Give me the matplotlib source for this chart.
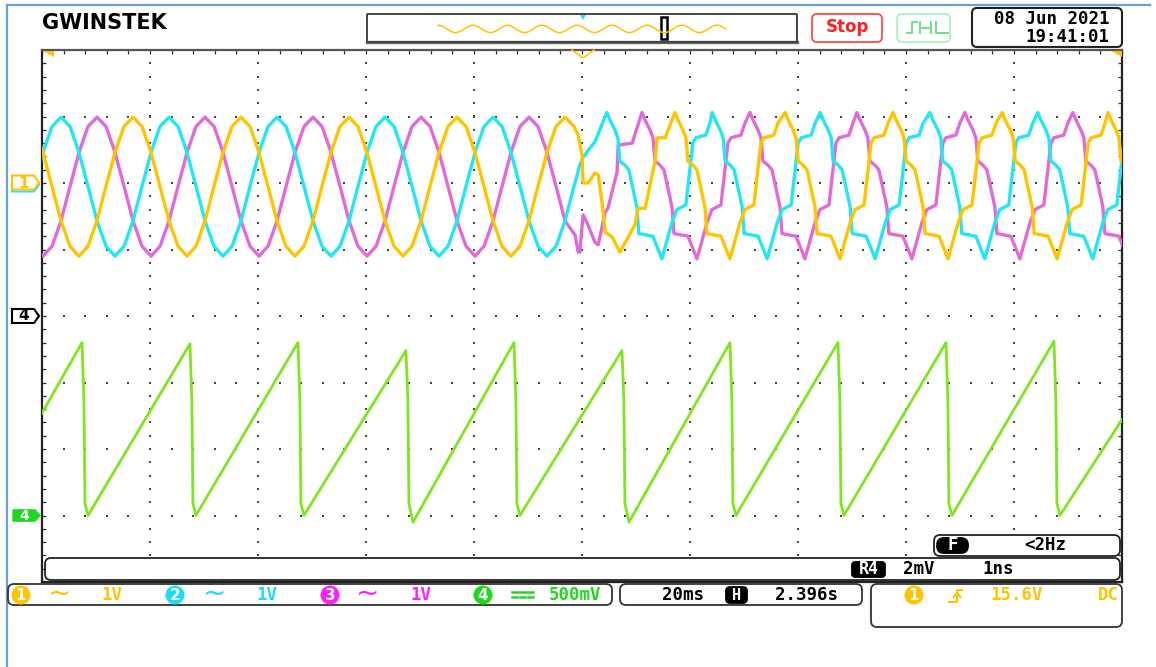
import numpy as np
import matplotlib.pyplot as plt
from matplotlib.patches import FancyBboxPatch, Polygon, Circle, Rectangle

# time in ms (20 ms/div), volts (ch1-3: 1 V/div, ch4: 500 mV/div)
# one period of the clean sine, read from the crest
clean_off = [0, 1.67, 3.33, 5.0, 6.67, 8.33, 10.0, 11.67, 13.33, 15.0, 16.67, 18.33]
clean_v = [0.99, 0.85, 0.46, -0.05, -0.57, -0.95, -1.10, -0.95, -0.57, -0.05, 0.46, 0.85]

# one period of the distorted wave (after ~100 ms), read from the crest
dist_off = [0, 0.56, 1.48, 2.04, 2.41, 3.33, 4.07, 5.56, 5.93, 8.52, 10.19, 12.04, 12.96, 14.63, 15.93, 16.48, 18.33, 19.07]
dist_v = [1.06, 0.95, 0.80, 0.68, 0.33, 0.27, 0.20, -0.36, -0.76, -0.80, -1.14, -0.60, -0.40, -0.33, 0.60, 0.68, 0.72, 0.90]

# CH1 (yellow)
ch1_clean_peaks = [-3.15, 16.85, 36.85, 56.85, 76.85, 96.85]
ch1_cut = 99.0
ch1_tr_t = [99.3, 100.0, 100.2, 101.1, 102.4, 103.0, 103.7, 104.3, 105.6, 107.0, 109.8, 110.4, 111.7, 113.5, 113.9, 115.4]
ch1_tr_v = [0.72, 0.42, 0.0, 0.0, 0.15, 0.12, -0.29, -0.74, -0.81, -1.04, -0.63, -0.38, -0.38, 0.32, 0.68, 0.68]
ch1_dist_peaks = [117.2, 137.6, 157.6, 177.8, 197.4]

# CH2 (cyan)
ch2_clean_peaks = [-16.48, 3.52, 23.52, 43.52, 63.52, 83.52]
ch2_cut = 99.0
ch2_tr_t = [99.6, 100.2, 102.4]
ch2_tr_v = [0.27, 0.39, 0.62]
ch2_dist_peaks = [104.6, 124.1, 144.1, 164.4, 184.4]

# CH3 (magenta)
ch3_clean_peaks = [-9.81, 10.19, 30.19, 50.19, 70.19, 90.19]
ch3_cut = 98.0
ch3_tr_t = [98.7, 99.3, 99.6, 100.2, 100.9, 102.4, 103.0, 104.3, 104.8, 106.5, 106.7, 109.3]
ch3_tr_v = [-0.78, -1.04, -1.04, -0.48, -0.59, -0.89, -0.93, -0.44, -0.38, 0.17, 0.57, 0.60]
ch3_dist_peaks = [111.1, 131.1, 150.9, 170.9, 190.9]

# CH4 sawtooth
saw_start_v = 0.77
saw_peak_t = [7.41, 27.4, 47.4, 67.4, 87.4, 107.4, 127.4, 147.4, 167.4, 187.4]
saw_peak_v = [1.30, 1.29, 1.30, 1.24, 1.30, 1.24, 1.30, 1.30, 1.30, 1.31]
saw_low_t = [8.52, 28.5, 48.5, 68.7, 88.5, 108.7, 128.5, 148.5, 168.5, 188.5]
saw_low_v = [0.0, 0.0, 0.0, -0.05, 0.0, -0.05, 0.0, 0.0, 0.0, 0.0]
saw_end_v = 0.72

# overview strip sine crests (screen px)
thumb_peaks = [438, 473, 507, 542, 577, 612, 647, 682, 717]

YEL = '#FFC400'
CYA = '#22E6F6'
MAG = '#E26AD8'
GRN = '#7EE61E'


def build(clean_peaks, cut, tr_t, tr_v, dist_peaks):
    t, v = [], []
    for p in clean_peaks:
        for o, val in zip(clean_off, clean_v):
            if p + o < cut:
                t.append(p + o)
                v.append(val)
    t += tr_t
    v += tr_v
    nxt = dist_peaks[1:] + [1e9]
    for p, q in zip(dist_peaks, nxt):
        for o, val in zip(dist_off, dist_v):
            if p + o < q:
                t.append(p + o)
                v.append(val)
    return np.array(t), np.array(v)


fig = plt.figure(figsize=(11.56, 6.67), dpi=100)

# waveform area: 10 x 8 divisions
ax = fig.add_axes([42 / 1156, 85 / 667, 1080 / 1156, 532 / 667])
ax.set_zorder(1)
ax.set_xlim(0, 200)
ax.set_ylim(-4, 4)
ax.set_xticks(np.arange(0, 201, 20))
ax.set_xticks(np.arange(0, 201, 4), minor=True)
ax.set_yticks(np.arange(-4, 5, 1))
ax.set_yticks(np.arange(-4, 4.01, 0.2), minor=True)
ax.tick_params(which='both', direction='in', length=3, width=0.9, color='#333333',
               top=True, right=True, labelbottom=False, labelleft=False)
for s in ax.spines.values():
    s.set_color('#222222')
    s.set_linewidth(1.6)
ax.spines['top'].set_color('#555555')

gx, gy = np.meshgrid(np.arange(20, 200, 20), np.arange(-4, 4.01, 0.2))
ax.scatter(gx.ravel(), gy.ravel(), s=1.3, marker='s', color='#444444', lw=0, zorder=1)
hx, hy = np.meshgrid(np.arange(4, 200, 4), np.arange(-3, 4, 1))
ax.scatter(hx.ravel(), hy.ravel(), s=1.3, marker='s', color='#444444', lw=0, zorder=1)

t3, v3 = build(ch3_clean_peaks, ch3_cut, ch3_tr_t, ch3_tr_v, ch3_dist_peaks)
t2, v2 = build(ch2_clean_peaks, ch2_cut, ch2_tr_t, ch2_tr_v, ch2_dist_peaks)
t1, v1 = build(ch1_clean_peaks, ch1_cut, ch1_tr_t, ch1_tr_v, ch1_dist_peaks)
ax.plot(t3, 2 + v3, color=MAG, lw=2.4, zorder=3)
ax.plot(t2, 2 + v2, color=CYA, lw=2.4, zorder=3)
ax.plot(t1, 2 + v1, color=YEL, lw=2.4, zorder=3)

st, sv = [0.0], [saw_start_v]
for pt, pv, lt, lv in zip(saw_peak_t, saw_peak_v, saw_low_t, saw_low_v):
    st += [pt, pt + 0.35, pt + 0.55, lt]
    sv += [pv, 0.87, 0.09, lv]
st.append(200.0)
sv.append(saw_end_v)
ax.plot(st, -3 + np.array(sv) / 0.5, color=GRN, lw=2.0, zorder=3)

# screen decorations in pixel coordinates
ax0 = fig.add_axes([0, 0, 1, 1])
ax0.set_zorder(2)
ax0.set_xlim(0, 1156)
ax0.set_ylim(667, 0)
ax0.axis('off')

mono = dict(family='DejaVu Sans Mono', weight='bold', fontsize=12.5, va='center', ha='center')


def rbox(x0, y0, x1, y1, ec='#333333', lw=1.3, fc='none', r=6, z=3):
    ax0.add_patch(FancyBboxPatch((x0, y0), x1 - x0, y1 - y0,
                                 boxstyle=f'round,pad=0,rounding_size={r}',
                                 ec=ec, fc=fc, lw=lw, zorder=z))


ax0.plot([7, 7], [5, 667], color='#6A9FD8', lw=1.6)
ax0.plot([7, 1150], [5, 5], color='#6A9FD8', lw=1.6)

ax0.text(42, 23, 'GWINSTEK', fontsize=15, weight='heavy', family='DejaVu Sans',
         va='center', ha='left')

# overview strip
rbox(367, 14, 797, 42, ec='#444444', lw=1.4, r=1)
ax0.plot([367, 797], [42, 42], color='#666666', lw=2.4)
tx, ty = [], []
for p in thumb_peaks:
    for o, val in zip(clean_off, clean_v):
        if p + o * 35 / 20 <= 727:
            tx.append(p + o * 35 / 20)
            ty.append(28.7 - val * 3.6)
ax0.plot(tx, ty, color=YEL, lw=1.1)
ax0.add_patch(Polygon([(579, 13), (587, 13), (583, 20)], fc=CYA, ec='none'))
ax0.add_patch(Rectangle((661, 17), 6, 22, fc='white', ec='black', lw=1.8))

rbox(812, 14, 882, 42, ec='#FF3B3B', lw=1.2, r=5)
ax0.text(847, 27.5, 'Stop', color='#FF2020', fontsize=12, weight='bold',
         family='DejaVu Sans', ha='center', va='center')
rbox(897, 14, 950, 42, ec='#A6F0C0', lw=1.2, r=5)
jc = '#6EE08E'
ax0.plot([907, 912, 912, 917], [33, 33, 22, 22], color=jc, lw=1.4)
ax0.plot([920, 920], [22, 33], color=jc, lw=1.4)
ax0.plot([931, 931], [22, 33], color=jc, lw=1.4)
ax0.plot([920, 931], [27.5, 27.5], color=jc, lw=1.4)
ax0.plot([936, 936, 948], [22, 33, 33], color=jc, lw=1.4)

rbox(972, 8, 1122, 47, ec='#222222', lw=1.5, r=5)
ax0.text(1109, 18.5, '08 Jun 2021', **{**mono, 'ha': 'right'})
ax0.text(1109, 36.5, '19:41:01', **{**mono, 'ha': 'right'})

# markers on the graticule border
ax0.add_patch(Polygon([(43, 51), (54, 51), (54, 57)], fc=YEL, ec='none'))
ax0.add_patch(Polygon([(1111, 51), (1122, 51), (1122, 57)], fc=YEL, ec='none'))
ax0.plot([572, 583, 594], [50, 58, 50], color=YEL, lw=1.2)

pent = np.array([(12, -7), (34, -7), (39, 0), (34, 7), (12, 7)], dtype=float)
ax0.add_patch(Polygon(pent + [0, 184.5], fc='white', ec=CYA, lw=1.5))
ax0.add_patch(Polygon(pent + [0, 182.5], fc='white', ec=YEL, lw=1.5))
ax0.text(24, 183, '1', color=YEL, fontsize=11, weight='bold', ha='center', va='center')
ax0.add_patch(Polygon(pent + [0, 316], fc='white', ec='black', lw=1.5))
ax0.text(24, 316, '4', color='black', fontsize=11, weight='bold', ha='center', va='center')
ax0.add_patch(Polygon(pent * [1, 0.8] + [1, 515.5], fc='#1ED81E', ec='#1ED81E', lw=1))
ax0.text(24, 515.5, '4', color='white', fontsize=10, weight='bold', ha='center', va='center')

# info boxes inside the graticule
rbox(45, 558, 1120, 580, ec='#222222', lw=1.3, fc='white', r=6)
rbox(852, 562, 885, 577, ec='black', fc='black', r=3, z=4)
ax0.text(868.5, 569.5, 'R4', **{**mono, 'color': 'white', 'fontsize': 12}, zorder=5)
ax0.text(919, 569, '2mV', **mono, zorder=5)
ax0.text(998.5, 569, '1ns', **mono, zorder=5)
rbox(934, 535, 1120, 556, ec='#222222', lw=1.3, fc='white', r=6)
rbox(937, 538, 968, 553, ec='black', fc='black', r=7, z=4)
ax0.text(952.5, 545.5, 'F', **{**mono, 'color': 'white'}, zorder=5)
ax0.text(1045.5, 545.5, '<2Hz', **mono, zorder=5)

# channel / timebase / trigger strip
rbox(8, 584, 612, 605)
rbox(620, 584, 862, 605)
rbox(871, 584, 1122, 627)

lab_y = 595
chans = [(21, YEL, '1'), (175, '#1EDCF5', '2'), (330, '#FF1EFF', '3'), (483, '#1ED81E', '4')]
for cx, col, lbl in chans:
    ax0.add_patch(Circle((cx, lab_y), 9.5, fc=col, ec='none', zorder=4))
    ax0.text(cx, lab_y, lbl, color='white', fontsize=11, weight='bold',
             ha='center', va='center', zorder=5)
for x, col in [(60, YEL), (215, '#1EDCF5'), (368, '#FF1EFF')]:
    ax0.text(x, lab_y - 1, '~', color=col, fontsize=20, family='DejaVu Sans',
             ha='center', va='center')
for x, col in [(112, YEL), (267, '#1EDCF5'), (421, '#FF1EFF')]:
    ax0.text(x, lab_y, '1V', **{**mono, 'color': col})
ax0.plot([512, 533], [592, 592], color='#1ED81E', lw=1.8)
for x0 in [512, 520, 528]:
    ax0.plot([x0, x0 + 5], [597, 597], color='#1ED81E', lw=1.8)
ax0.text(575, lab_y, '500mV', **{**mono, 'color': '#1ED81E'})

ax0.text(683, lab_y, '20ms', **mono)
rbox(726, 587, 747, 603, ec='black', fc='black', r=4, z=4)
ax0.text(736.5, 595, 'H', **{**mono, 'color': 'white', 'fontsize': 11}, zorder=5)
ax0.text(807, lab_y, '2.396s', **mono)

ax0.add_patch(Circle((914, lab_y), 9.5, fc=YEL, ec='none', zorder=4))
ax0.text(914, lab_y, '1', color='white', fontsize=11, weight='bold',
         ha='center', va='center', zorder=5)
ax0.plot([949, 957, 957, 962], [602, 602, 590, 590], color=YEL, lw=1.5)
ax0.plot([953.5, 957, 960.5], [597, 593, 597], color=YEL, lw=1.5)
ax0.text(1017, lab_y, '15.6V', **{**mono, 'color': YEL})
ax0.text(1108, lab_y, 'DC', **{**mono, 'color': YEL})

plt.savefig('out.png', dpi=100, facecolor='white')
